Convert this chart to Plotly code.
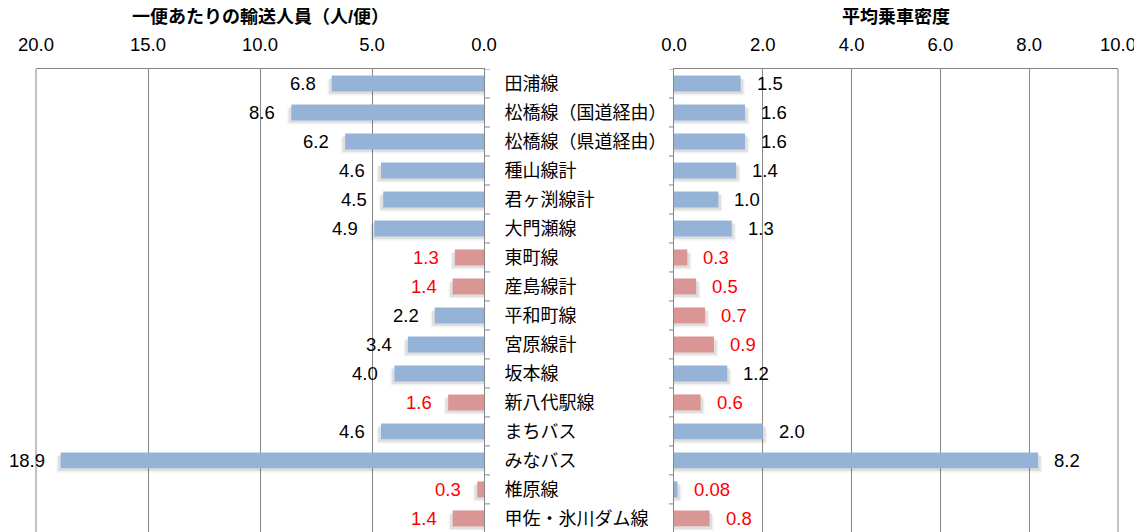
import plotly.graph_objects as go

categories = ["田浦線", "松橋線（国道経由）", "松橋線（県道経由）", "種山線計", "君ヶ渕線計",
              "大門瀬線", "東町線", "産島線計", "平和町線", "宮原線計", "坂本線",
              "新八代駅線", "まちバス", "みなバス", "椎原線", "甲佐・氷川ダム線"]
passengers = [6.8, 8.6, 6.2, 4.6, 4.5, 4.9, 1.3, 1.4, 2.2, 3.4, 4.0, 1.6, 4.6, 18.9, 0.3, 1.4]
passenger_labels = ["6.8", "8.6", "6.2", "4.6", "4.5", "4.9", "1.3", "1.4", "2.2", "3.4",
                    "4.0", "1.6", "4.6", "18.9", "0.3", "1.4"]
density = [1.5, 1.6, 1.6, 1.4, 1.0, 1.3, 0.3, 0.5, 0.7, 0.9, 1.2, 0.6, 2.0, 8.2, 0.08, 0.8]
density_labels = ["1.5", "1.6", "1.6", "1.4", "1.0", "1.3", "0.3", "0.5", "0.7", "0.9",
                  "1.2", "0.6", "2.0", "8.2", "0.08", "0.8"]
# flags: low performers (red bar / red label)
passenger_bar_low = [0, 0, 0, 0, 0, 0, 1, 1, 0, 0, 0, 1, 0, 0, 1, 1]
passenger_label_low = [0, 0, 0, 0, 0, 0, 1, 1, 0, 0, 0, 1, 0, 0, 1, 1]
density_bar_low = [0, 0, 0, 0, 0, 0, 1, 1, 1, 1, 0, 1, 0, 0, 0, 1]
density_label_low = [0, 0, 0, 0, 0, 0, 1, 1, 1, 1, 0, 1, 0, 0, 1, 1]

left_title = "一便あたりの輸送人員（人/便）"
right_title = "平均乗車密度"

BLUE = "#95B3D7"
RED_BAR = "#D99694"
RED_TXT = "#FF0000"
GRID = "#868686"
FONT = "Liberation Sans, Arial, Noto Sans CJK JP"
OFF = 8  # default page body margin in the browser
W, H = 1142 - OFF, 532 - OFF
BAR_W = 0.55

fig = go.Figure()

def add_side(values, bar_low, xa, ya, dx):
    # soft shadow (offset down and outward)
    for alpha, sh, ext in [(0.05, 0.14, 1.4), (0.08, 0.09, 0.9)]:
        fig.add_trace(go.Bar(
            orientation="h", x=[v + dx * ext for v in values],
            y=list(range(len(values))), width=BAR_W, offset=-BAR_W / 2 + sh,
            marker=dict(color=f"rgba(0,0,0,{alpha})", line=dict(width=0)),
            xaxis=xa, yaxis=ya, hoverinfo="skip", showlegend=False))
    fig.add_trace(go.Bar(
        orientation="h", x=values, y=list(range(len(values))), width=BAR_W,
        marker=dict(color=[RED_BAR if f else BLUE for f in bar_low], line=dict(width=0)),
        xaxis=xa, yaxis=ya, hoverinfo="skip", showlegend=False))

add_side(passengers, passenger_bar_low, "x", "y", 0.13)
add_side(density, density_bar_low, "x2", "y2", 0.065)

VAL_SIZE = 18.5
annotations = []
for i, (v, t, f) in enumerate(zip(passengers, passenger_labels, passenger_label_low)):
    annotations.append(dict(xref="x", yref="y", x=v, y=i, text=t, showarrow=False,
                            xanchor="right", yanchor="middle", xshift=-14,
                            font=dict(family=FONT, size=VAL_SIZE, color=RED_TXT if f else "black")))
for i, (v, t, f) in enumerate(zip(density, density_labels, density_label_low)):
    annotations.append(dict(xref="x2", yref="y2", x=v, y=i, text=t, showarrow=False,
                            xanchor="left", yanchor="middle", xshift=14,
                            font=dict(family=FONT, size=VAL_SIZE, color=RED_TXT if f else "black")))
annotations.append(dict(xref="x domain", yref="paper", x=0.5, y=1, yshift=52, text="<b>" + left_title + "</b>",
                        showarrow=False, xanchor="center", yanchor="middle",
                        font=dict(family=FONT, size=18, color="black")))
annotations.append(dict(xref="x2 domain", yref="paper", x=0.5, y=1, yshift=52, text="<b>" + right_title + "</b>",
                        showarrow=False, xanchor="center", yanchor="middle",
                        font=dict(family=FONT, size=18, color="black")))

n = len(categories)
yrange = [15.47, -0.5]
common_x = dict(side="top", showgrid=True, gridcolor=GRID, gridwidth=1, showline=True,
                linecolor=GRID, linewidth=1, zeroline=False, ticks="", tickformat=".1f",
                tickfont=dict(family=FONT, size=18.5, color="black"), ticklabelstandoff=10,
                fixedrange=True, automargin=False)
fig.update_layout(
    width=W, height=H, margin=dict(l=0, r=0, t=69 - OFF, b=0, autoexpand=False),
    paper_bgcolor="white", plot_bgcolor="white", barmode="overlay",
    showlegend=False, annotations=annotations,
    xaxis=dict(domain=[(36 - OFF) / W, (484 - OFF) / W], range=[20, 0], tick0=0, dtick=5,
               anchor="y", **common_x),
    xaxis2=dict(domain=[(674 - OFF) / W, (1118 - OFF) / W], range=[0, 10], tick0=0, dtick=2,
                anchor="y2", **common_x),
    yaxis=dict(anchor="x", side="right", range=yrange, tickmode="array",
               tickvals=list(range(n)), ticktext=categories, showline=True, linecolor=GRID,
               ticks="", showgrid=False, zeroline=False, ticklabelstandoff=16, automargin=False,
               tickfont=dict(family=FONT, size=18, color="black"), fixedrange=True),
    yaxis2=dict(anchor="x2", side="left", range=yrange, showticklabels=False, showline=True,
                linecolor=GRID, ticks="", showgrid=False, zeroline=False, fixedrange=True,
                automargin=False),
)

# category boundary tick marks on the value-axis lines, plus outer plot borders
bounds = [i - 0.5 for i in range(n + 1)]
shapes = [
    dict(type="line", xref="x domain", yref="y domain", x0=0, x1=0, y0=0, y1=1,
         line=dict(color=GRID, width=1), layer="below"),
    dict(type="line", xref="x2 domain", yref="y2 domain", x0=1, x1=1, y0=0, y1=1,
         line=dict(color=GRID, width=1), layer="below"),
]
for b in bounds:
    shapes.append(dict(type="line", xref="x domain", yref="y", x0=1.0, x1=1.0 + 6 / 448, y0=b, y1=b,
                       line=dict(color=GRID, width=1)))
    shapes.append(dict(type="line", xref="x2 domain", yref="y2", x0=-5 / 444, x1=0, y0=b, y1=b,
                       line=dict(color=GRID, width=1)))
fig.update_layout(shapes=shapes)

fig.write_html("out.html")
